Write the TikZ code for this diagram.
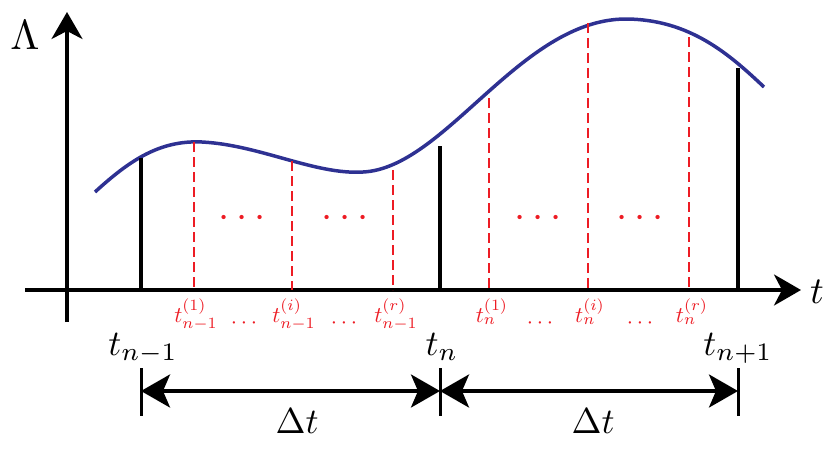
\documentclass[tikz,border=0pt]{standalone}
\usetikzlibrary{arrows.meta}
\definecolor{curveblue}{RGB}{46,49,146}
\definecolor{lred}{RGB}{237,28,36}
\tikzset{
  axis/.style={line width=3.5pt,-{Stealth[length=27pt,width=31pt,inset=8pt]}},
  bar/.style={line width=3.5pt},
  sub/.style={draw=lred,line width=2.6pt,dash pattern=on 10pt off 5pt},
  curve/.style={draw=curveblue,line width=3.5pt},
  big/.style={font=\normalsize,scale=3.6,inner sep=0pt},
  small/.style={text=lred,font=\normalsize,scale=2.25,inner sep=0pt,anchor=base},
  dotsl/.style={text=lred,font=\normalsize,scale=4,inner sep=0pt,anchor=base},
  tick/.style={line width=3pt},
  dim/.style={line width=3.5pt,{Stealth[length=29pt,width=33pt,inset=7pt]}-{Stealth[length=29pt,width=33pt,inset=7pt]}}
}
\begin{document}
\begin{tikzpicture}[x=1pt,y=-1pt]
\useasboundingbox (0,0) rectangle (830,451);
% axes
\coordinate (ybot) at (67,322);
\coordinate (ytop) at (67,12);
\coordinate (xl) at (25,290);
\coordinate (xr) at (801,290);
\draw[axis] (ybot) -- (ytop);
\draw[axis] (xl) -- (xr);
\node[font=\normalsize,scale=4.2,inner sep=0pt] (Lam) at (25,35) {$\Lambda$};
\node[font=\normalsize,scale=3.8,inner sep=0pt] (tax) at (817,292) {$t$};
% curve
\draw[curve] (95,192) .. controls (130,160) and (160,140) .. (202,142)
  .. controls (260,145) and (315,175) .. (363,172)
  .. controls (445,168) and (520,20) .. (625,19)
  .. controls (690,19) and (730,55) .. (764,87);
% black bars
\foreach \x/\y/\n in {141/158/a,440/146/b,738/68/c}{
  \coordinate (\n top) at (\x,\y);
  \coordinate (\n bot) at (\x,290);
  \draw[bar] (\n top) -- (\n bot);
}
% red dashed
\foreach \x/\y/\n in {194/142/r1,292/161/r2,393/170/r3,489/98/r4,588/23/r5,689/37/r6}{
  \coordinate (\n top) at (\x,\y);
  \coordinate (\n bot) at (\x,290);
  \draw[sub] (\n top) -- (\n bot);
}
% dots in plot
\foreach \x/\n in {242/d1,345/d2,538/d3,640/d4}{
  \node[dotsl] (\n) at (\x,227) {$\cdots$};
}
% red labels
\node[small] (l1) at (196,322) {$t_{n-1}^{(1)}$};
\node[small] (l2) at (294,322) {$t_{n-1}^{(i)}$};
\node[small] (l3) at (396,322) {$t_{n-1}^{(r)}$};
\node[small] (l4) at (492,322) {$t_{n}^{(1)}$};
\node[small] (l5) at (590,322) {$t_{n}^{(i)}$};
\node[small] (l6) at (692,322) {$t_{n}^{(r)}$};
\foreach \x/\n in {244/e1,344/e2,540/e3,640/e4}{
  \node[small] (\n) at (\x,328) {$\cdots$};
}
% black labels
\node[big,anchor=base] (tnm) at (143,355) {$t_{n-1}$};
\node[big,anchor=base] (tn) at (442,355) {$t_{n}$};
\node[big,anchor=base] (tnp) at (738,355) {$t_{n+1}$};
% dimension
\foreach \x/\n in {141/k1,440/k2,738/k3}{
  \coordinate (\n t) at (\x,368);
  \coordinate (\n b) at (\x,416);
  \coordinate (\n m) at (\x,391);
  \draw[tick] (\n t) -- (\n b);
}
\draw[dim] (k1m) -- (k2m);
\draw[dim] (k2m) -- (k3m);
\node[big,anchor=base] (dt1) at (297,433) {$\Delta t$};
\node[big,anchor=base] (dt2) at (593,433) {$\Delta t$};
\end{tikzpicture}
\end{document}
